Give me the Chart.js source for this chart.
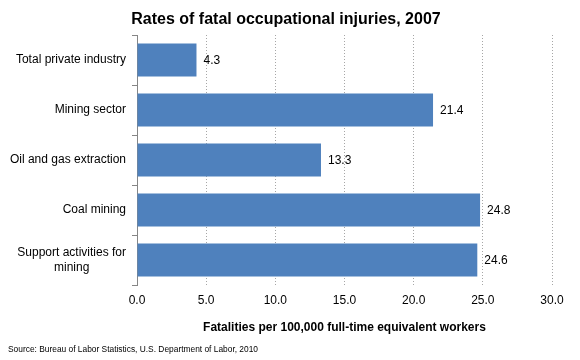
<!DOCTYPE html>
<html>
<head>
<meta charset="utf-8">
<script src="https://cdn.jsdelivr.net/npm/chart.js@4/dist/chart.umd.min.js"></script>
<style>
  body { margin: 0; background: #fff; }
  #wrap { width: 580px; height: 360px; }
</style>
</head>
<body>
<div id="wrap"><canvas id="barChart" width="580" height="360"></canvas></div>
<script>
// data
var categories = ['Total private industry', 'Mining sector', 'Oil and gas extraction', 'Coal mining', ['Support activities for', 'mining']];
var rates = [4.3, 21.4, 13.3, 24.8, 24.6];
var xTicks = [0, 5, 10, 15, 20, 25, 30];

var titleText = 'Rates of fatal occupational injuries, 2007';
var axisText = 'Fatalities per 100,000 full-time equivalent workers';
var sourceText = 'Source: Bureau of Labor Statistics, U.S. Department of Labor, 2010';

var FONT = '"Liberation Sans", Arial, sans-serif';

// title, source line, category labels and value labels
var extras = {
    id: 'extras',
    afterDatasetsDraw: function (chart) {
        var ctx = chart.ctx;
        ctx.save();
        ctx.fillStyle = '#000';
        ctx.font = '12px ' + FONT;
        ctx.textAlign = 'left';
        ctx.textBaseline = 'middle';
        chart.getDatasetMeta(0).data.forEach(function (bar, i) {
            ctx.fillText(rates[i].toFixed(1), bar.x + 7, bar.y + 1);
        });
        ctx.restore();
    },
    afterDraw: function (chart) {
        var ctx = chart.ctx;
        var yScale = chart.scales.y;
        ctx.save();
        ctx.fillStyle = '#000';

        // category labels: block right aligned, lines centred inside the block
        ctx.font = '12px ' + FONT;
        ctx.textAlign = 'center';
        ctx.textBaseline = 'middle';
        categories.forEach(function (lab, i) {
            var lines = Array.isArray(lab) ? lab : [lab];
            var w = Math.max.apply(null, lines.map(function (l) { return ctx.measureText(l).width; }));
            var cx = yScale.left + yScale.width - 11 - w / 2;
            var cy = yScale.getPixelForValue(i);
            lines.forEach(function (l, j) {
                ctx.fillText(l, cx, cy + (j - (lines.length - 1) / 2) * 15);
            });
        });

        ctx.font = 'bold 16px ' + FONT;
        ctx.fillText(titleText, 286, 20);
        ctx.font = '8.4px ' + FONT;
        ctx.textAlign = 'left';
        ctx.fillText(sourceText, 8, 350);
        ctx.restore();
    }
};

var ctxBar = document.getElementById('barChart').getContext('2d');
var barChart = new Chart(ctxBar, {
    type: 'bar',
    data: {
        labels: categories,
        datasets: [{
            label: 'Rate',
            data: rates,
            backgroundColor: '#4F81BD',
            borderWidth: 0,
            categoryPercentage: 1,
            barPercentage: 0.66
        }]
    },
    options: {
        indexAxis: 'y',
        responsive: false,
        animation: false,
        layout: { padding: { top: 35, right: 28, bottom: 0, left: 0 } },
        plugins: {
            legend: { display: false },
            tooltip: { enabled: false }
        },
        scales: {
            x: {
                min: 0,
                max: 30,
                afterBuildTicks: function (scale) {
                    scale.ticks = xTicks.map(function (v) { return { value: v }; });
                },
                afterFit: function (scale) { scale.height = 75; },
                ticks: {
                    color: '#000',
                    font: { family: FONT, size: 12 },
                    padding: 8,
                    maxRotation: 0,
                    callback: function (v) { return Number(v).toFixed(1); }
                },
                grid: {
                    color: '#a6a6a6',
                    drawTicks: false
                },
                border: { display: false, dash: [1, 2] },
                title: {
                    display: true,
                    text: axisText,
                    color: '#000',
                    font: { family: FONT, size: 12, weight: 'bold' },
                    padding: { top: 0, bottom: 25 }
                }
            },
            y: {
                afterFit: function (scale) { scale.width = 137; },
                ticks: { display: false },
                grid: {
                    offset: true,
                    drawOnChartArea: false,
                    color: '#868686',
                    tickLength: 5
                },
                border: { display: true, color: '#868686', width: 1 }
            }
        }
    },
    plugins: [extras]
});
</script>
</body>
</html>
